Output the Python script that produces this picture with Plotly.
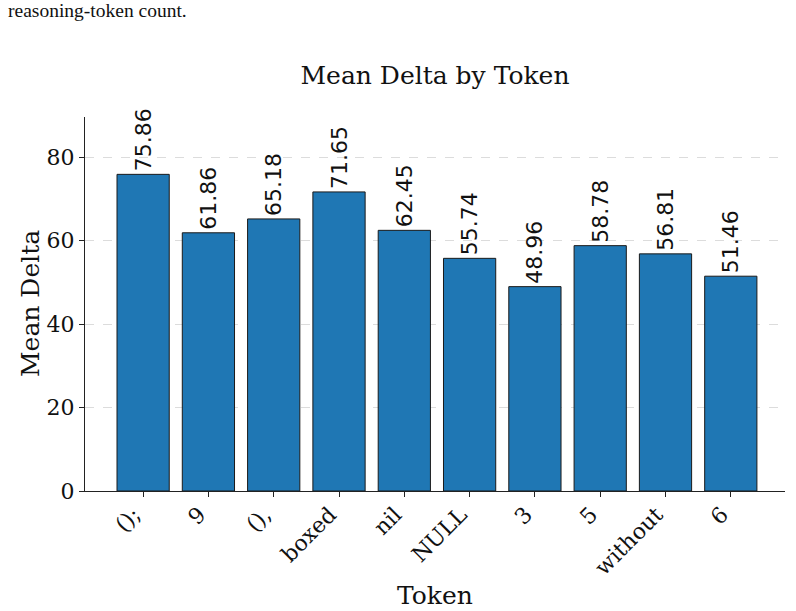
import plotly.graph_objects as go

tokens = ["();", "9", "(),", "boxed", "nil", "NULL", "3", "5", "without", "6"]
mean_delta = [75.86, 61.86, 65.18, 71.65, 62.45, 55.74, 48.96, 58.78, 56.81, 51.46]
value_labels = [f"{v:.2f}" for v in mean_delta]
y_ticks = [0, 20, 40, 60, 80]

W, H = 796, 611
L, R, T, B = 85, 11, 117, 120

fig = go.Figure()
fig.add_trace(go.Bar(
    x=list(range(len(tokens))), y=mean_delta,
    marker=dict(color="#1f77b4", line=dict(color="#1a1a1a", width=1)),
    text=value_labels, textposition="outside", textangle=-90,
    textfont=dict(family="DejaVu Sans", size=22, color="#111"),
    constraintext="none",
    cliponaxis=False, width=0.8,
))

fig.update_layout(
    width=W, height=H,
    margin=dict(l=L, r=R, t=T, b=B),
    paper_bgcolor="white", plot_bgcolor="white",
    showlegend=False,
    font=dict(family="DejaVu Serif", color="#111"),
    title=dict(text="Mean Delta by Token", x=(L + (W - R)) / 2 / W, xanchor="center",
               y=1 - 75 / H, yanchor="middle", yref="container",
               font=dict(family="DejaVu Serif", size=25, color="#111")),
    xaxis=dict(
        tickmode="array", tickvals=list(range(len(tokens))), ticktext=tokens,
        tickangle=-45, range=[-0.49 - 0.4, 9.4 + 0.49 - 0.06],
        showline=True, linecolor="#222", linewidth=1,
        ticks="outside", ticklen=5, tickcolor="#222",
        ticklabelshift=-9, ticklabelstandoff=-4,
        tickfont=dict(family="DejaVu Serif", size=22, color="#111"),
        showgrid=False, zeroline=False,
    ),
    yaxis=dict(
        tickmode="array", tickvals=y_ticks, range=[0, 89.6],
        showline=True, linecolor="#222", linewidth=1,
        ticks="outside", ticklen=5, tickcolor="#222",
        tickfont=dict(family="DejaVu Serif", size=22, color="#111"),
        showgrid=True, gridcolor="#dcdcdc", griddash="dash", gridwidth=0.8,
        zeroline=False,
    ),
    annotations=[
        dict(text="Token", xref="paper", yref="paper", x=0.5, y=-(595 - (H - B)) / (H - T - B),
             xanchor="center", yanchor="middle", showarrow=False,
             font=dict(family="DejaVu Serif", size=25, color="#111")),
        dict(text="Mean Delta", xref="paper", yref="paper", x=-(L - 30) / (W - L - R), y=0.5,
             xanchor="center", yanchor="middle", textangle=-90, showarrow=False,
             font=dict(family="DejaVu Serif", size=25, color="#111")),
        dict(text="reasoning-token count.", xref="paper", yref="paper",
             x=-(L - 6) / (W - L - R), y=1 + (T - 11) / (H - T - B),
             xanchor="left", yanchor="middle", showarrow=False,
             font=dict(family="Liberation Serif", size=19.5, color="#111")),
    ],
)

fig.write_html("out.html")
